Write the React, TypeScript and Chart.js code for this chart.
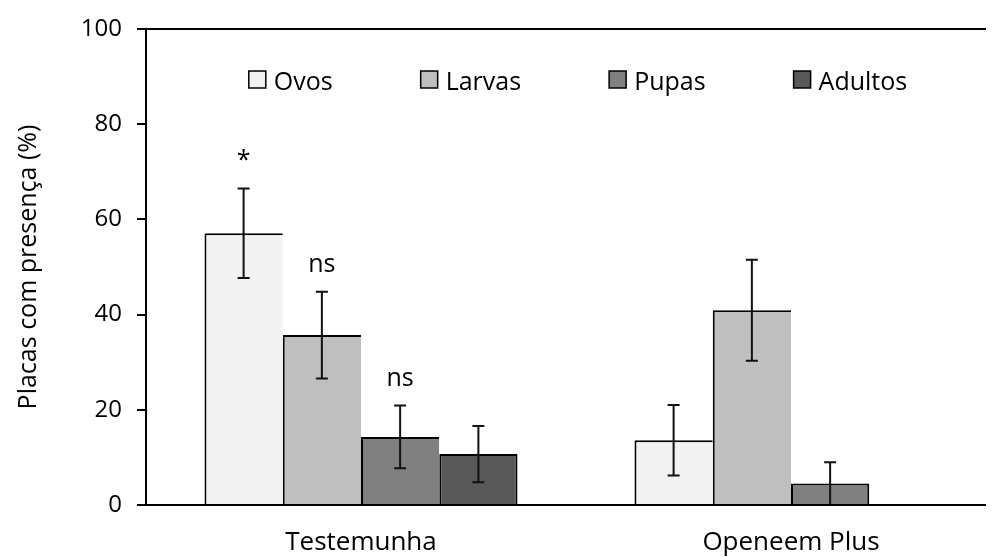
import React, { useEffect, useRef } from "react";
import { Chart, registerables } from "chart.js";

Chart.register(...registerables);

// ---- data ----
const categories = ["Testemunha", "Openeem Plus"];
const seriesNames = ["Ovos", "Larvas", "Pupas", "Adultos"];
const ovos = [57.1, 13.6];
const larvas = [35.7, 40.9];
const pupas = [14.3, 4.5];
const adultos = [10.7, 0];
const ovosErr = [9.4, 7.4];
const larvasErr = [9.1, 10.6];
const pupasErr = [6.6, 4.5];
const adultosErr = [5.9, 0];
const ovosSig = ["*", ""];
const larvasSig = ["ns", ""];
const pupasSig = ["ns", ""];
const adultosSig = ["", ""];
const yMin = 0;
const yMax = 100;
const yStep = 20;
const yTitle = "Placas com presença (%)";

const FONT = "'Open Sans', 'Noto Sans', sans-serif";
const colors = ["#f2f2f2", "#bfbfbf", "#808080", "#595959"];

const errorBarPlugin = {
  id: "errorBars",
  afterDatasetsDraw(chart: any) {
    const ctx = chart.ctx;
    const y = chart.scales.y;
    chart.data.datasets.forEach((ds: any, di: number) => {
      const meta = chart.getDatasetMeta(di);
      meta.data.forEach((bar: any, i: number) => {
        const v = ds.data[i];
        const e = ds.errors[i];
        const top = y.getPixelForValue(v + e);
        const bot = y.getPixelForValue(Math.max(yMin, v - e));
        ctx.save();
        ctx.strokeStyle = "#111";
        ctx.lineWidth = 2;
        ctx.beginPath();
        ctx.moveTo(bar.x, top);
        ctx.lineTo(bar.x, bot);
        ctx.moveTo(bar.x - 6, top);
        ctx.lineTo(bar.x + 6, top);
        ctx.moveTo(bar.x - 6, bot);
        ctx.lineTo(bar.x + 6, bot);
        ctx.stroke();
        const s = ds.sig[i];
        if (s) {
          ctx.fillStyle = "#000";
          ctx.font = `25px ${FONT}`;
          ctx.textAlign = "center";
          ctx.textBaseline = "alphabetic";
          ctx.fillText(s, bar.x, top - 20);
        }
        ctx.restore();
      });
    });
  },
};

const legendPlugin = {
  id: "innerLegend",
  afterDraw(chart: any) {
    const ctx = chart.ctx;
    const area = chart.chartArea;
    ctx.save();
    ctx.font = `25px ${FONT}`;
    const box = 17;
    const gap = 8;
    const spacing = 88;
    const items = chart.data.datasets.map((ds: any) => ({
      label: ds.label,
      color: ds.backgroundColor,
      w: box + gap + ctx.measureText(ds.label).width,
    }));
    const total =
      items.reduce((s: number, it: any) => s + it.w, 0) + spacing * (items.length - 1);
    let x = (area.left + area.right) / 2 + 2 - total / 2;
    const boxTop = area.top + 42;
    const baseline = area.top + 61;
    items.forEach((it: any) => {
      ctx.fillStyle = it.color;
      ctx.fillRect(x, boxTop, box, box);
      ctx.strokeStyle = "#000";
      ctx.lineWidth = 1.5;
      ctx.strokeRect(x, boxTop, box, box);
      ctx.fillStyle = "#000";
      ctx.textAlign = "left";
      ctx.textBaseline = "alphabetic";
      ctx.fillText(it.label, x + box + gap, baseline);
      x += it.w + spacing;
    });
    ctx.restore();
  },
};

export default function App() {
  const ref = useRef<HTMLCanvasElement | null>(null);

  useEffect(() => {
    document.documentElement.style.overflow = "hidden";
    document.body.style.overflow = "hidden";
    const canvas = ref.current;
    if (!canvas) return;

    const values = [ovos, larvas, pupas, adultos];
    const errs = [ovosErr, larvasErr, pupasErr, adultosErr];
    const sigs = [ovosSig, larvasSig, pupasSig, adultosSig];

    const datasets = seriesNames.map((name, k) => {
      const rightW = values[k].map((_, i) =>
        k === values.length - 1 || !values[k + 1][i] ? 2 : 0
      );
      return {
        label: name,
        data: values[k],
        errors: errs[k],
        sig: sigs[k],
        backgroundColor: colors[k],
        borderColor: "#000",
        borderSkipped: "start",
        borderWidth: rightW.map((r) => ({ left: 2, top: 2, right: r, bottom: 0 })),
        inflateAmount: 0,
        categoryPercentage: 0.728,
        barPercentage: 1,
      };
    });

    const chart = new Chart(canvas, {
      type: "bar",
      data: { labels: categories, datasets: datasets as any },
      options: {
        animation: false,
        responsive: false,
        devicePixelRatio: 1,
        layout: { padding: { top: 21, left: 0, right: 0, bottom: 0 } },
        plugins: {
          legend: { display: false },
          tooltip: { enabled: false },
        },
        scales: {
          x: {
            grid: { display: false, drawTicks: false },
            border: { display: true, color: "#000", width: 2, z: 1 },
            ticks: {
              color: "#000",
              font: { family: FONT, size: 26 },
              padding: 22,
            },
            afterFit: (s: any) => {
              s.height = 52;
              s.paddingLeft = 0;
              s.paddingRight = 0;
            },
          },
          y: {
            min: yMin,
            max: yMax,
            ticks: {
              stepSize: yStep,
              color: "#000",
              font: { family: FONT, size: 24 },
              padding: 15,
            },
            grid: {
              color: (c: any) => (c.tick && c.tick.value === yMax ? "#000" : "rgba(0,0,0,0)"),
              lineWidth: 2,
              tickLength: 9,
              tickColor: "#000",
              tickWidth: 2,
              drawTicks: true,
            },
            border: { display: true, color: "#000", width: 2 },
            title: {
              display: true,
              text: yTitle,
              color: "#000",
              font: { family: FONT, size: 25 },
              padding: { top: 6, bottom: 0 },
            },
            afterFit: (s: any) => {
              s.width = 138;
              s.paddingTop = 0;
              s.paddingBottom = 0;
            },
          },
        },
      },
      plugins: [errorBarPlugin, legendPlugin],
    });

    return () => chart.destroy();
  }, []);

  return (
    <div style={{ width: 986, height: 549, overflow: "hidden" }}>
      <canvas
        ref={ref}
        width={998}
        height={549}
        style={{ display: "block", width: 998, height: 549 }}
      />
    </div>
  );
}
